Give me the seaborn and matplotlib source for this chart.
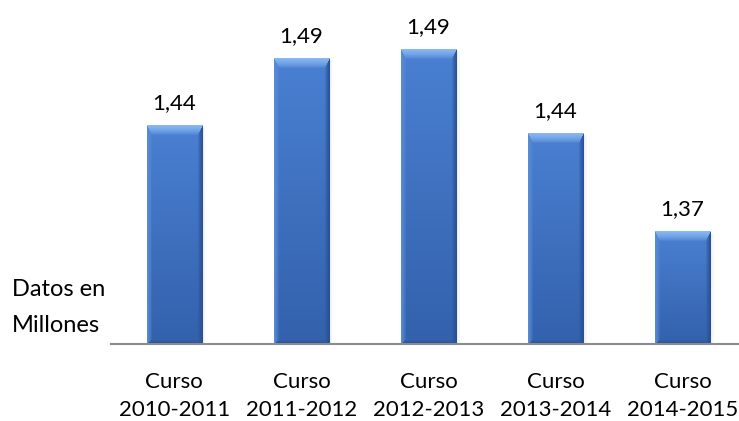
import numpy as np
import pandas as pd
import seaborn as sns
import matplotlib.pyplot as plt
from matplotlib.colors import to_rgb

# Alumnado por curso académico (millones)
cursos = ["Curso\n2010-2011", "Curso\n2011-2012", "Curso\n2012-2013",
          "Curso\n2013-2014", "Curso\n2014-2015"]
valores = [1.441, 1.486, 1.492, 1.436, 1.370]

sns.set_theme(style="white")
plt.rcParams['font.family'] = ['Lato', 'DejaVu Sans']

fig = plt.figure(figsize=(7.39, 4.21), dpi=100)
ax = fig.add_axes([0.150, 0.183, 0.85, 0.817])

df = pd.DataFrame({"curso": cursos, "valor": valores})
sns.barplot(data=df, x="curso", y="valor", color="#3F74C4", saturation=1,
            width=0.433, ax=ax, zorder=2)

ylim = (1.295, 1.525)
xlim = (-0.5, 4.445)
ax.set_ylim(*ylim)
ax.set_xlim(*xlim)

# size of one pixel in data units
bbox = ax.get_window_extent()
px_x = (xlim[1] - xlim[0]) / bbox.width
px_y = (ylim[1] - ylim[0]) / bbox.height

base_top = np.array(to_rgb("#4A80D2"))
base_bot = np.array(to_rgb("#3361AC"))
c_top = np.array(to_rgb("#8CBBF4"))
c_left = np.array(to_rgb("#5A8DD8"))
c_right = np.array(to_rgb("#284F92"))
c_bot = np.array(to_rgb("#2A5396"))


def bevel_image(w, h, bt=10, bs=5, bb=4):
    ys, xs = np.mgrid[0:h, 0:w] + 0.5
    t = ys / h
    img = base_top[None, None, :] * (1 - t[..., None]) + base_bot[None, None, :] * t[..., None]
    dl = xs / bs
    dr = (w - xs) / bs
    dt = ys / bt
    db = (h - ys) / bb
    d = np.stack([dt, dl, dr, db])
    which = np.argmin(d, axis=0)
    dmin = np.min(d, axis=0)
    cols = [c_top, c_left, c_right, c_bot]
    for k, c in enumerate(cols):
        m = (which == k) & (dmin < 1)
        a = (1 - dmin[m]) ** 0.7
        img[m] = img[m] * (1 - a[:, None]) + c[None, :] * a[:, None]
    return np.clip(img, 0, 1)


for patch, v in zip(ax.patches, valores):
    x0 = patch.get_x()
    w = patch.get_width()
    top = patch.get_height()
    bottom = ylim[0]
    wpx = int(round(w / px_x))
    hpx = int(round((top - bottom) / px_y))
    # soft shadow on the right side
    for i, al in enumerate([0.10, 0.06, 0.03]):
        ax.fill_between([x0 + w, x0 + w + (i + 1) * 1.2 * px_x],
                        bottom, top - 2 * px_y, color="black", alpha=al,
                        lw=0, zorder=1)
    ax.imshow(bevel_image(wpx, hpx), extent=(x0, x0 + w, bottom, top),
              aspect="auto", interpolation="bilinear", zorder=3)
    ax.annotate(f"{v:.2f}".replace(".", ","), (x0 + w / 2, top),
                xytext=(0, 9), textcoords="offset points",
                ha="center", va="bottom", fontsize=16, color="black")

ax.set_xlim(*xlim)
ax.set_ylim(*ylim)
ax.set_xlabel("")
ax.set_ylabel("")
ax.set_yticks([])
ax.tick_params(axis="x", length=0, pad=20, labelsize=16, labelcolor="black")
for lab in ax.get_xticklabels():
    lab.set_linespacing(1.5)
for s in ["top", "left", "right"]:
    ax.spines[s].set_visible(False)
ax.spines["bottom"].set_color("#8C8C8C")
ax.spines["bottom"].set_linewidth(1.5)
ax.spines["bottom"].set_zorder(4)

fig.text(0.016, 0.27, "Datos en\nMillones", ha="left", va="center",
         fontsize=17, color="black", linespacing=1.9)

fig.savefig("out.png", dpi=100)
